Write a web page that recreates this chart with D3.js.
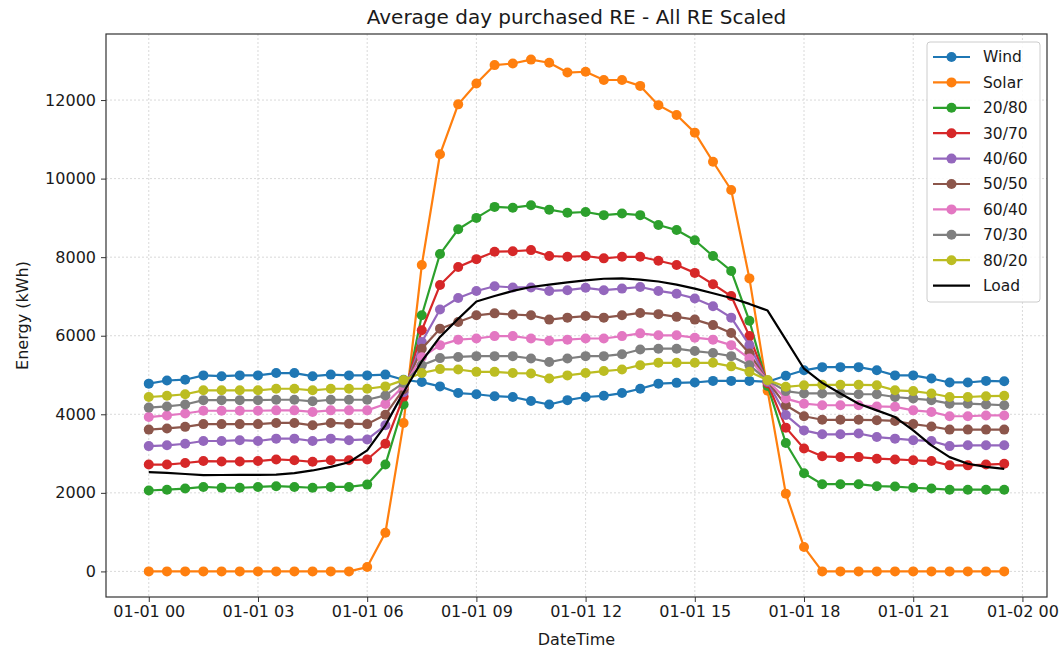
<!DOCTYPE html>
<html>
<head>
<meta charset="utf-8">
<script src="https://cdn.jsdelivr.net/npm/d3@7"></script>
<style>
  body { margin: 0; background: white; }
  svg text { font-family: "DejaVu Sans", sans-serif; fill: #1a1a1a; }
</style>
</head>
<body>
<svg id="chart" width="1059" height="650"></svg>
<script>
// half-hourly averages, 00:00 .. 23:30
let wind   = [4780,4860,4880,4990,4970,4990,4990,5050,5050,4970,5010,4990,4990,5010,4880,4820,4710,4540,4510,4460,4440,4340,4250,4360,4440,4470,4540,4650,4780,4800,4810,4850,4850,4850,4830,4980,5120,5200,5200,5200,5120,4990,4990,4910,4810,4810,4850,4840];
let solar  = [0,0,0,0,0,0,0,0,0,0,0,0,110,985,3780,7800,10620,11890,12420,12890,12930,13030,12950,12700,12720,12510,12510,12360,11870,11620,11170,10430,9710,7460,4600,1980,620,0,0,0,0,0,0,0,0,0,0,0];
let mix2080 = [2060,2080,2110,2150,2130,2130,2150,2170,2150,2130,2150,2150,2210,2720,4250,6520,8080,8710,9000,9280,9260,9320,9210,9130,9150,9070,9110,9070,8820,8690,8430,8030,7650,6380,4720,3270,2500,2220,2220,2220,2170,2160,2130,2110,2080,2080,2080,2080];
let mix3070 = [2720,2720,2760,2810,2800,2800,2810,2850,2830,2790,2830,2830,2850,3250,4450,6140,7290,7750,7950,8140,8150,8180,8030,8010,8030,7970,8010,8010,7910,7800,7600,7310,7010,5990,4790,3660,3130,2930,2910,2910,2870,2850,2830,2810,2700,2700,2720,2740];
let mix4060 = [3190,3210,3250,3320,3320,3340,3320,3380,3380,3320,3380,3340,3360,3720,4560,5840,6670,6960,7140,7260,7230,7230,7140,7160,7220,7160,7200,7240,7140,7070,6950,6750,6460,5760,4820,3980,3590,3490,3490,3510,3420,3380,3340,3320,3190,3210,3210,3210];
let mix5050 = [3610,3640,3680,3750,3750,3750,3750,3780,3780,3720,3780,3760,3750,3990,4640,5670,6180,6350,6520,6570,6540,6520,6410,6460,6500,6460,6520,6580,6550,6480,6410,6270,6070,5550,4840,4230,3950,3860,3860,3860,3850,3830,3750,3690,3610,3610,3610,3610];
let mix6040 = [3930,3970,4020,4090,4090,4090,4090,4100,4100,4060,4100,4100,4100,4260,4720,5450,5760,5900,5930,5990,5990,5930,5870,5900,5930,5930,5990,6060,6010,6010,5950,5900,5760,5420,4850,4400,4270,4230,4230,4230,4200,4190,4100,4060,3950,3950,3970,3970];
let mix7030 = [4170,4200,4250,4360,4360,4360,4360,4370,4370,4330,4370,4370,4370,4480,4800,5250,5430,5460,5480,5480,5480,5420,5330,5420,5480,5480,5530,5650,5670,5670,5610,5560,5480,5250,4860,4590,4530,4530,4530,4510,4510,4440,4400,4360,4270,4270,4250,4230];
let mix8020 = [4440,4470,4510,4610,4610,4610,4610,4650,4650,4610,4650,4650,4650,4710,4870,5050,5150,5140,5080,5080,5050,5040,4910,4990,5050,5100,5140,5250,5310,5310,5310,5310,5220,5080,4870,4700,4740,4750,4750,4750,4740,4610,4590,4530,4440,4440,4460,4470];
let load   = [2530,2510,2480,2450,2455,2460,2460,2465,2500,2570,2660,2780,3080,3720,4560,5350,5970,6430,6870,7010,7140,7240,7300,7360,7410,7450,7460,7430,7380,7300,7200,7080,6960,6810,6640,5900,5160,4800,4530,4270,4100,3930,3590,3210,2910,2740,2660,2610];

let names  = ['Wind','Solar','20/80','30/70','40/60','50/50','60/40','70/30','80/20','Load'];
let colors = ['#1f77b4','#ff7f0e','#2ca02c','#d62728','#9467bd','#8c564b','#e377c2','#7f7f7f','#bcbd22','#000000'];
let yTicks = [0,2000,4000,6000,8000,10000,12000];

let allSeries = [wind, solar, mix2080, mix3070, mix4060, mix5050, mix6040, mix7030, mix8020, load];
let t0 = Date.UTC(2021, 0, 1);
let halfHour = 30 * 60 * 1000;
let times = d3.range(48).map(i => new Date(t0 + i * halfHour));

let series = names.map((name, k) => ({
  name: name,
  color: colors[k],
  markers: name !== 'Load',
  values: allSeries[k].map((v, i) => ({t: times[i], v: v}))
}));

let margin = {top: 34, right: 12, bottom: 53, left: 106};
let width = 1059, height = 650;
let svg = d3.select('#chart');

// matplotlib style 5% padding on both axes
let tExt = d3.extent(times);
let tPad = (tExt[1] - tExt[0]) * 0.05;
let sx = d3.scaleUtc()
  .domain([new Date(+tExt[0] - tPad), new Date(+tExt[1] + tPad)])
  .range([margin.left, width - margin.right]);

let vMax = d3.max(allSeries, s => d3.max(s));
let vPad = vMax * 0.05;
let sy = d3.scaleLinear()
  .domain([-vPad, vMax + vPad])
  .range([height - margin.bottom, margin.top]);

let xTicks = sx.ticks(d3.utcHour.every(3));
let fmt = d3.utcFormat('%m-%d %H');

// grid
let grid = svg.append('g').attr('class', 'grid')
  .attr('stroke', '#cfcfcf').attr('stroke-width', 0.8).attr('stroke-dasharray', '2,2');
grid.selectAll('.gx').data(xTicks).join('line')
  .attr('x1', d => sx(d)).attr('x2', d => sx(d))
  .attr('y1', margin.top).attr('y2', height - margin.bottom);
grid.selectAll('.gy').data(yTicks).join('line')
  .attr('x1', margin.left).attr('x2', width - margin.right)
  .attr('y1', d => sy(d)).attr('y2', d => sy(d));

// lines + markers
let line = d3.line().x(d => sx(d.t)).y(d => sy(d.v));
let plot = svg.append('g').attr('class', 'series');
series.forEach(s => {
  let g = plot.append('g');
  g.append('path')
    .attr('d', line(s.values))
    .attr('fill', 'none')
    .attr('stroke', s.color)
    .attr('stroke-width', 2.2)
    .attr('stroke-linejoin', 'round');
  if (s.markers) {
    g.selectAll('circle').data(s.values).join('circle')
      .attr('cx', d => sx(d.t))
      .attr('cy', d => sy(d.v))
      .attr('r', 5)
      .attr('fill', s.color);
  }
});

// axes
let xAxis = svg.append('g')
  .attr('transform', `translate(0,${height - margin.bottom})`)
  .call(d3.axisBottom(sx).tickValues(xTicks).tickFormat(fmt).tickSize(5).tickPadding(4));
let yAxis = svg.append('g')
  .attr('transform', `translate(${margin.left},0)`)
  .call(d3.axisLeft(sy).tickValues(yTicks).tickFormat(d3.format('d')).tickSize(5).tickPadding(5));
[xAxis, yAxis].forEach(a => {
  a.select('.domain').remove();
  a.selectAll('text').style('font-size', '16px').attr('fill', '#1a1a1a');
  a.selectAll('line').attr('stroke', '#333');
});

// frame
svg.append('rect')
  .attr('x', margin.left).attr('y', margin.top)
  .attr('width', width - margin.left - margin.right)
  .attr('height', height - margin.top - margin.bottom)
  .attr('fill', 'none').attr('stroke', '#333').attr('stroke-width', 1.2);

// labels
let cx = (margin.left + width - margin.right) / 2;
svg.append('text').attr('x', cx).attr('y', 24)
  .attr('text-anchor', 'middle').style('font-size', '20px')
  .text('Average day purchased RE - All RE Scaled');
svg.append('text').attr('x', cx).attr('y', 645)
  .attr('text-anchor', 'middle').style('font-size', '16px')
  .text('DateTime');
svg.append('text')
  .attr('transform', `translate(28,${(margin.top + height - margin.bottom) / 2}) rotate(-90)`)
  .attr('text-anchor', 'middle').style('font-size', '16px')
  .text('Energy (kWh)');

// legend
let lg = svg.append('g').attr('transform', 'translate(927,42)');
lg.append('rect')
  .attr('width', 113).attr('height', 260).attr('rx', 3)
  .attr('fill', 'white').attr('fill-opacity', 0.85)
  .attr('stroke', '#cccccc');
let row = lg.selectAll('.row').data(series).join('g')
  .attr('transform', (d, i) => `translate(0,${15 + i * 25.4})`);
row.append('line')
  .attr('x1', 6).attr('x2', 43)
  .attr('stroke', d => d.color).attr('stroke-width', 2.2);
row.filter(d => d.markers).append('circle')
  .attr('cx', 24.5).attr('r', 5).attr('fill', d => d.color);
row.append('text')
  .attr('x', 56).attr('dy', '0.35em')
  .style('font-size', '15.5px')
  .text(d => d.name);
</script>
</body>
</html>
